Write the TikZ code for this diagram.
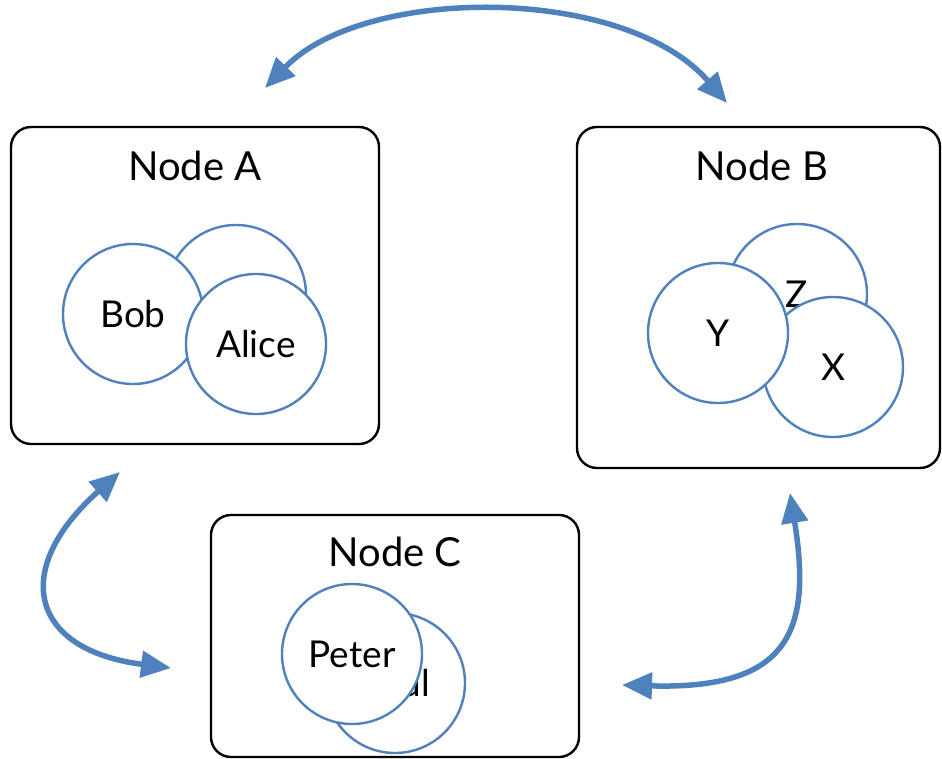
\documentclass[tikz,border=0pt]{standalone}
\usepackage{fontspec}
\setmainfont{Lato}
\usetikzlibrary{arrows.meta}
\definecolor{linkblue}{RGB}{79,129,189}
\begin{document}
\begin{tikzpicture}[x=1pt,y=-1pt,
  hostbox/.style={draw=black, line width=2.4pt, rounded corners=20pt, fill=white,
    inner sep=0pt, outer sep=0pt, anchor=north west},
  member/.style={circle, draw=linkblue, line width=2.4pt, fill=white,
    minimum size=140pt, inner sep=0pt, font=\fontsize{37}{42}\selectfont},
  hosttitle/.style={font=\fontsize{40}{46}\selectfont, inner sep=0pt, anchor=base},
  link/.style={draw=linkblue, line width=5.5pt,
    {Triangle[length=30pt,width=26pt]}-{Triangle[length=30pt,width=26pt]}}
]
\useasboundingbox (0,0) rectangle (942,759);

% host boxes
\node[hostbox, minimum width=368pt, minimum height=317pt] (A) at (11,127) {};
\node[hostbox, minimum width=363pt, minimum height=341pt] (B) at (577,127) {};
\node[hostbox, minimum width=368pt, minimum height=242pt] (C) at (211,515) {};

% titles
\node[hosttitle] (tA) at (195,181) {Node A};
\node[hosttitle] (tB) at (762,181) {Node B};
\node[hosttitle] (tC) at (395,566) {Node C};

% members of Node A
\node[member] (a0) at (236,295) {};
\node[member] (bob) at (133,314) {Bob};
\node[member] (alice) at (256,344) {Alice};

% members of Node B
\node[member] (z) at (797,294) {Z};
\node[member] (x) at (833,367) {X};
\node[member] (y) at (718,333) {Y};

% members of Node C
\node[member] (paul) at (395,683) {Paul};
\node[member] (peter) at (352,654) {Peter};

% link end points
\coordinate (tl) at (265,88);
\coordinate (tr) at (727,103);
\coordinate (al) at (120,472);
\coordinate (cl) at (171,668);
\coordinate (bt) at (790,493);
\coordinate (cr) at (622,685);

% links between hosts
\draw[link] (tl) .. controls (365,-15) and (625,-15) .. (tr);
\draw[link] (al) .. controls (10,570) and (30,650) .. (cl);
\draw[link] (bt) .. controls (812,630) and (790,690) .. (cr);
\end{tikzpicture}
\end{document}
